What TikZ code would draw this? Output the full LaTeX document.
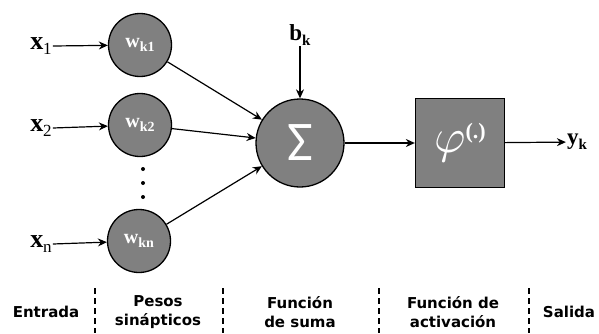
\documentclass[tikz,border=0pt]{standalone}
\usepackage{fontspec}
\usepackage{unicode-math}
\setsansfont{DejaVu Sans}
\setmathfont{Latin Modern Math}
\newfontfamily\serifb{Liberation Serif}
\newfontfamily\sumfont{Carlito}
\usepackage{tikz}
\usetikzlibrary{arrows.meta}

% letra con subindice, p.ej. \varsub{x}{1}
\newcommand{\varsub}[2]{{\bfseries #1}\raisebox{-0.2em}{\fontsize{17}{17}\selectfont #2}}

\begin{document}
\begin{tikzpicture}[
    x=1pt,y=1pt,
    peso/.style={circle, draw, line width=1.3pt, fill=gray, minimum size=63pt, inner sep=0pt, text=white},
    entrada/.style={font=\serifb\fontsize{26}{28}\selectfont, inner sep=1pt},
    conn/.style={line width=1.2pt, -{Stealth[length=9pt,width=8pt]}},
    etiqueta/.style={font=\sffamily\bfseries\fontsize{15}{19}\selectfont, align=center},
    sep/.style={line width=1.2pt, dash pattern=on 6pt off 4pt}
    ]
    \useasboundingbox (0, 0) rectangle (599, 333);
    % entradas
    \node[entrada] (x1) at (41, 287) {\varsub{x}{1}};
    \node[entrada] (x2) at (41, 205) {\varsub{x}{2}};
    \node[entrada] (xn) at (41, 89) {\varsub{x}{n}};
    % pesos
    \node[peso] (w1) at (140, 288) {\serifb\bfseries\fontsize{20}{20}\selectfont w\raisebox{-0.2em}{\fontsize{14}{14}\selectfont k1}};
    \node[peso] (w2) at (140, 208) {\serifb\bfseries\fontsize{20}{20}\selectfont w\raisebox{-0.2em}{\fontsize{14}{14}\selectfont k2}};
    \node[peso] (wn) at (139, 92) {\serifb\bfseries\fontsize{20}{20}\selectfont w\raisebox{-0.2em}{\fontsize{14}{14}\selectfont kn}};
    \fill (143, 164) circle (2pt);
    \fill (143, 150) circle (2pt);
    \fill (143, 136) circle (2pt);
    % suma y activacion
    \node[peso, minimum size=88pt] (suma) at (300, 190) {\sumfont\fontsize{56}{56}\selectfont Σ};
    \node[draw, line width=1.3pt, fill=gray, minimum size=89pt, inner sep=0pt, text=white] (act) at (460, 190)
        {\fontsize{48}{48}\selectfont$\varphi$\raisebox{0.3em}{\serifb\bfseries\fontsize{22}{22}\selectfont(.)}};
    \node[entrada, font=\serifb\bfseries\fontsize{23}{25}\selectfont] (bk) at (300, 298) {b\raisebox{-0.2em}{\fontsize{15}{15}\selectfont k}};
    \node[entrada, font=\serifb\bfseries\fontsize{23}{25}\selectfont] (yk) at (577, 191) {y\raisebox{-0.2em}{\fontsize{15}{15}\selectfont k}};
    % conexiones
    \draw[conn] (x1.east) -- (w1);
    \draw[conn] (x2.east) -- (w2);
    \draw[conn] (xn.east) -- (wn);
    \draw[conn] (w1) -- (suma);
    \draw[conn] (w2) -- (suma);
    \draw[conn] (wn) -- (suma);
    \draw[conn] (bk) -- (suma);
    \draw[conn] (suma) -- (act);
    \draw[conn] (act) -- (yk);
    % etiquetas inferiores
    \node[etiqueta] (entrada) at (46, 21) {Entrada};
    \node[etiqueta] (pesos) at (158, 21) {Pesos\\sinápticos};
    \node[etiqueta] (fsuma) at (300, 21) {Función\\de suma};
    \node[etiqueta] (fact) at (453, 21) {Función de\\activación};
    \node[etiqueta] (salida) at (569, 21) {Salida};
    \draw[sep] (95, 45) -- (95, 0);
    \draw[sep] (223, 45) -- (223, 0);
    \draw[sep] (379, 45) -- (379, 0);
    \draw[sep] (529, 45) -- (529, 0);
  \end{tikzpicture}
\end{document}
